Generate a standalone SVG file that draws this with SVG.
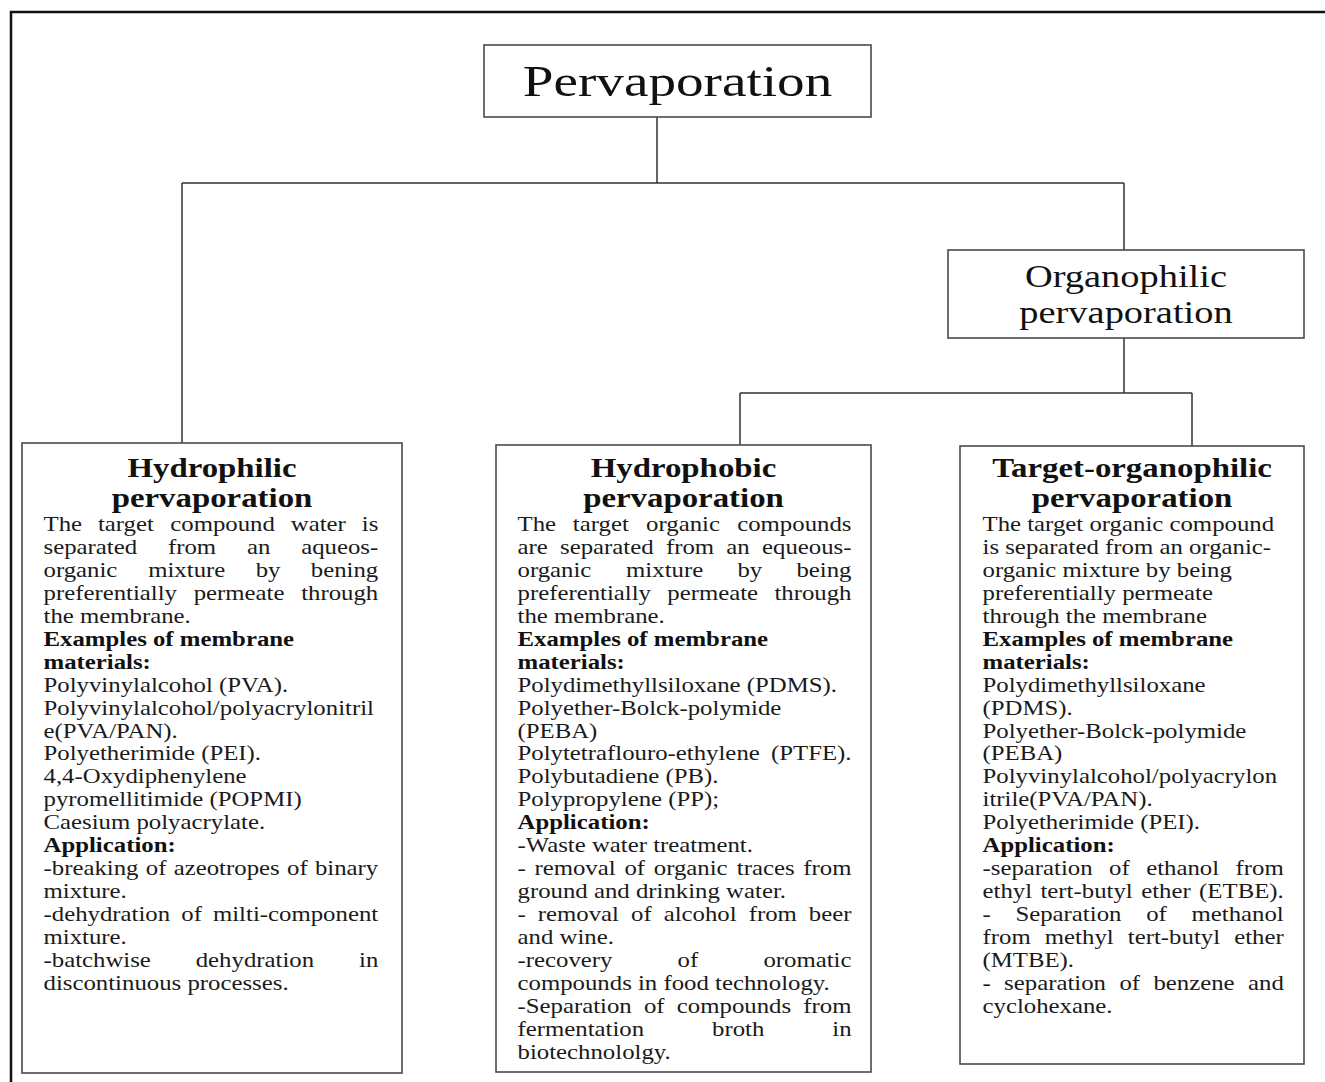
<svg xmlns="http://www.w3.org/2000/svg" width="1325" height="1082" viewBox="0 0 1325 1082">
<style>
.box{fill:#fff;stroke:#4a4a4a;stroke-width:1.6}
.conn{stroke:#333;stroke-width:1.5;fill:none}
.t{font-family:"Liberation Serif","Times New Roman",serif;font-size:20px;fill:#1a1a1a}
.b{font-weight:bold;fill:#111}
.h{font-family:"Liberation Serif","Times New Roman",serif;font-size:26.5px;font-weight:bold;text-anchor:middle;fill:#111}
.big{font-family:"Liberation Serif","Times New Roman",serif;text-anchor:middle;fill:#111}
</style>
<rect width="1325" height="1082" fill="#fff"/>
<g id="frame"><path d="M11 1082 V12 H1325" fill="none" stroke="#111" stroke-width="2.5"/></g>
<g id="connectors">
<path class="conn" d="M657 117 V183 M182 183 H1124 M182 183 V443 M1124 183 V250 M1124 338 V393 M740 393 H1192 M740 393 V445 M1192 393 V446"/>
</g>
<g id="pervaporation">
<rect class="box" x="484" y="45" width="387" height="72"/>
<text class="big" font-size="44.5" transform="translate(677.5 96) scale(1.24 1)">Pervaporation</text>
</g>
<g id="organophilic">
<rect class="box" x="948" y="250" width="356" height="88"/>
<g transform="translate(1126 0) scale(1.24 1)">
<text class="big" font-size="31" y="287">Organophilic</text>
<text class="big" font-size="31" y="323">pervaporation</text>
</g>
</g>
<g id="hydrophilic">
<rect class="box" x="22" y="443" width="380" height="630"/>
<g transform="translate(212 0) scale(1.24 1)">
<text class="h" y="477">Hydrophilic</text>
<text class="h" y="507">pervaporation</text>
</g>
<g class="t" transform="translate(43.5 0) scale(1.24 1)">
<text y="531"><tspan x="0">The</tspan><tspan x="43.89">target</tspan><tspan x="102.22">compound</tspan><tspan x="199.45">water</tspan><tspan x="256.66">is</tspan></text>
<text y="554"><tspan x="0">separated</tspan><tspan x="100.36">from</tspan><tspan x="164.08">an</tspan><tspan x="207.8">aqueos-</tspan></text>
<text y="577"><tspan x="0">organic</tspan><tspan x="84.43">mixture</tspan><tspan x="171.11">by</tspan><tspan x="215.56">bening</tspan></text>
<text y="600"><tspan x="0">preferentially</tspan><tspan x="121.11">permeate</tspan><tspan x="207.78">through</tspan></text>
<text x="0" y="622.8">the membrane.</text>
<text class="b" x="0" y="645.75">Examples of membrane</text>
<text class="b" x="0" y="668.7">materials:</text>
<text x="0" y="691.65">Polyvinylalcohol (PVA).</text>
<text x="0" y="714.6">Polyvinylalcohol/polyacrylonitril</text>
<text x="0" y="737.55">e(PVA/PAN).</text>
<text x="0" y="760.5">Polyetherimide (PEI).</text>
<text x="0" y="783.45">4,4-Oxydiphenylene</text>
<text x="0" y="806.4">pyromellitimide (POPMI)</text>
<text x="0" y="829.35">Caesium polyacrylate.</text>
<text class="b" x="0" y="852.3">Application:</text>
<text y="875.25"><tspan x="0">-breaking</tspan><tspan x="82.5">of</tspan><tspan x="105.01">azeotropes</tspan><tspan x="196.39">of</tspan><tspan x="218.9">binary</tspan></text>
<text x="0" y="898.2">mixture.</text>
<text y="921.15"><tspan x="0">-dehydration</tspan><tspan x="111.1">of</tspan><tspan x="136.66">milti-component</tspan></text>
<text x="0" y="944.1">mixture.</text>
<text y="967.05"><tspan x="0">-batchwise</tspan><tspan x="122.77">dehydration</tspan><tspan x="254.44">in</tspan></text>
<text x="0" y="990">discontinuous processes.</text>
</g>
</g>
<g id="hydrophobic">
<rect class="box" x="496" y="445" width="375" height="627"/>
<g transform="translate(683.5 0) scale(1.24 1)">
<text class="h" y="477">Hydrophobic</text>
<text class="h" y="507">pervaporation</text>
</g>
<g class="t" transform="translate(517.5 0) scale(1.24 1)">
<text y="531"><tspan x="0">The</tspan><tspan x="44.62">target</tspan><tspan x="103.68">organic</tspan><tspan x="177.18">compounds</tspan></text>
<text y="554"><tspan x="0">are</tspan><tspan x="34.3">separated</tspan><tspan x="119.69">from</tspan><tspan x="168.45">an</tspan><tspan x="197.2">equeous-</tspan></text>
<text y="577"><tspan x="0">organic</tspan><tspan x="87.57">mixture</tspan><tspan x="177.37">by</tspan><tspan x="224.96">being</tspan></text>
<text y="600"><tspan x="0">preferentially</tspan><tspan x="120.81">permeate</tspan><tspan x="207.18">through</tspan></text>
<text x="0" y="622.8">the membrane.</text>
<text class="b" x="0" y="645.75">Examples of membrane</text>
<text class="b" x="0" y="668.7">materials:</text>
<text x="0" y="691.65">Polydimethyllsiloxane (PDMS).</text>
<text x="0" y="714.6">Polyether-Bolck-polymide</text>
<text x="0" y="737.55">(PEBA)</text>
<text y="760.5"><tspan x="0">Polytetraflouro-ethylene</tspan><tspan x="204.4">(PTFE).</tspan></text>
<text x="0" y="783.45">Polybutadiene (PB).</text>
<text x="0" y="806.4">Polypropylene (PP);</text>
<text class="b" x="0" y="829.35">Application:</text>
<text x="0" y="852.3">-Waste water treatment.</text>
<text y="875.25"><tspan x="0">-</tspan><tspan x="13.67">removal</tspan><tspan x="86.22">of</tspan><tspan x="109.88">organic</tspan><tspan x="176.87">traces</tspan><tspan x="230.52">from</tspan></text>
<text x="0" y="898.2">ground and drinking water.</text>
<text y="921.15"><tspan x="0">-</tspan><tspan x="16.33">removal</tspan><tspan x="91.54">of</tspan><tspan x="117.88">alcohol</tspan><tspan x="186.43">from</tspan><tspan x="234.98">beer</tspan></text>
<text x="0" y="944.1">and wine.</text>
<text y="967.05"><tspan x="0">-recovery</tspan><tspan x="129.13">of</tspan><tspan x="198.3">oromatic</tspan></text>
<text x="0" y="990">compounds in food technology.</text>
<text y="1012.95"><tspan x="0">-Separation</tspan><tspan x="102.01">of</tspan><tspan x="128.49">compounds</tspan><tspan x="230.52">from</tspan></text>
<text y="1035.9"><tspan x="0">fermentation</tspan><tspan x="156.91">broth</tspan><tspan x="253.84">in</tspan></text>
<text x="0" y="1058.85">biotechnololgy.</text>
</g>
</g>
<g id="target-organophilic">
<rect class="box" x="960" y="446" width="344" height="618"/>
<g transform="translate(1132 0) scale(1.24 1)">
<text class="h" y="477">Target-organophilic</text>
<text class="h" y="507">pervaporation</text>
</g>
<g class="t" transform="translate(982.5 0) scale(1.24 1)">
<text x="0" y="531">The target organic compound</text>
<text x="0" y="554">is separated from an organic-</text>
<text x="0" y="577">organic mixture by being</text>
<text x="0" y="600">preferentially permeate</text>
<text x="0" y="622.8">through the membrane</text>
<text class="b" x="0" y="645.75">Examples of membrane</text>
<text class="b" x="0" y="668.7">materials:</text>
<text x="0" y="691.65">Polydimethyllsiloxane</text>
<text x="0" y="714.6">(PDMS).</text>
<text x="0" y="737.55">Polyether-Bolck-polymide</text>
<text x="0" y="760.5">(PEBA)</text>
<text x="0" y="783.45">Polyvinylalcohol/polyacrylon</text>
<text x="0" y="806.4">itrile(PVA/PAN).</text>
<text x="0" y="829.35">Polyetherimide (PEI).</text>
<text class="b" x="0" y="852.3">Application:</text>
<text y="875.25"><tspan x="0">-separation</tspan><tspan x="102.1">of</tspan><tspan x="132">ethanol</tspan><tspan x="204.12">from</tspan></text>
<text y="898.2"><tspan x="0">ethyl</tspan><tspan x="46.75">tert-butyl</tspan><tspan x="127.95">ether</tspan><tspan x="174.68">(ETBE).</tspan></text>
<text y="921.15"><tspan x="0">-</tspan><tspan x="26.56">Separation</tspan><tspan x="132">of</tspan><tspan x="168.56">methanol</tspan></text>
<text y="944.1"><tspan x="0">from</tspan><tspan x="50.26">methyl</tspan><tspan x="117.2">tert-butyl</tspan><tspan x="203.02">ether</tspan></text>
<text x="0" y="967.05">(MTBE).</text>
<text y="990"><tspan x="0">-</tspan><tspan x="17.43">separation</tspan><tspan x="110.4">of</tspan><tspan x="137.83">benzene</tspan><tspan x="214.12">and</tspan></text>
<text x="0" y="1012.95">cyclohexane.</text>
</g>
</g>
</svg>
